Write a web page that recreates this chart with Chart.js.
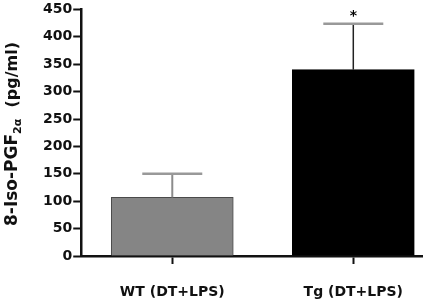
<!DOCTYPE html>
<html>
<head>
<meta charset="utf-8">
<script src="https://cdn.jsdelivr.net/npm/chart.js@4/dist/chart.umd.min.js"></script>
<style>
  html, body { margin: 0; padding: 0; background: #fff; overflow: hidden; }
  canvas { display: block; }
</style>
</head>
<body>
<canvas id="isoChart" width="423" height="302"></canvas>
<script>
const groups = ['WT (DT+LPS)', 'Tg (DT+LPS)'];
const positions = [1, 2];
const means = [107, 340];
const sems = [43, 84];
const significance = ['', '*'];
const yTicks = [0, 50, 100, 150, 200, 250, 300, 350, 400, 450];

const barFill = ['#858585', '#000000'];
const barEdge = ['#4a4a4a', '#000000'];

const FONT = "'DejaVu Sans', sans-serif";

// upper error bars + significance star, placed through the scales
const errorBars = {
    id: 'errorBars',
    afterDatasetsDraw(chart) {
        const { ctx, scales } = chart;
        const meta = chart.getDatasetMeta(0);
        ctx.save();
        meta.data.forEach((bar, i) => {
            const x = bar.x;
            const yTop = scales.y.getPixelForValue(means[i]);
            const yErr = scales.y.getPixelForValue(means[i] + sems[i]);
            ctx.lineCap = 'butt';
            ctx.strokeStyle = i === 0 ? '#8c8c8c' : '#222';
            ctx.lineWidth = i === 0 ? 2 : 1.5;
            ctx.beginPath();
            ctx.moveTo(x, yTop);
            ctx.lineTo(x, yErr);
            ctx.stroke();
            ctx.strokeStyle = '#999';
            ctx.lineWidth = 2.5;
            ctx.beginPath();
            ctx.moveTo(x - 30, yErr);
            ctx.lineTo(x + 30, yErr);
            ctx.stroke();
            if (significance[i]) {
                ctx.fillStyle = '#000';
                ctx.font = 'bold 14px ' + FONT;
                ctx.textAlign = 'center';
                ctx.textBaseline = 'middle';
                ctx.fillText(significance[i], x, yErr - 7);
            }
        });
        ctx.restore();
    }
};

// rotated y title with subscript "2α"
const yTitle = {
    id: 'yTitle',
    afterDraw(chart) {
        const { ctx } = chart;
        const parts = [
            { t: '8-Iso-PGF', f: 'bold 17px ' + FONT, dy: 0 },
            { t: '2α', f: 'bold 11px ' + FONT, dy: 4 },
            { t: '  (pg/ml)', f: 'bold 16px ' + FONT, dy: 0 }
        ];
        let total = 0;
        parts.forEach(p => { ctx.font = p.f; p.w = ctx.measureText(p.t).width; total += p.w; });
        ctx.save();
        ctx.translate(17, 134);
        ctx.rotate(-Math.PI / 2);
        ctx.fillStyle = '#111';
        ctx.textBaseline = 'alphabetic';
        ctx.textAlign = 'left';
        let xPos = -total / 2;
        parts.forEach(p => {
            ctx.font = p.f;
            ctx.fillText(p.t, xPos, p.dy);
            xPos += p.w;
        });
        ctx.restore();
    }
};

const ctx = document.getElementById('isoChart').getContext('2d');
new Chart(ctx, {
    type: 'bar',
    data: {
        datasets: [{
            data: positions.map((p, i) => ({ x: p, y: means[i] })),
            backgroundColor: barFill,
            borderColor: barEdge,
            borderWidth: 1,
            barThickness: 122
        }]
    },
    options: {
        responsive: false,
        animation: false,
        layout: { padding: { left: 42, right: 0, top: 4, bottom: 0 } },
        plugins: {
            legend: { display: false },
            tooltip: { enabled: false }
        },
        scales: {
            x: {
                type: 'linear',
                offset: false,
                min: 0.497,
                max: 2.381,
                afterBuildTicks: scale => { scale.ticks = positions.map(v => ({ value: v })); },
                afterFit: scale => { scale.height = 46; },
                grid: { offset: false, drawOnChartArea: false, tickLength: 8, tickWidth: 2, tickColor: '#111' },
                border: { display: true, color: '#111', width: 2.5 },
                ticks: {
                    callback: v => groups[positions.indexOf(v)] || '',
                    color: '#111',
                    font: { family: FONT, weight: 'bold', size: 14 },
                    padding: 20,
                    maxRotation: 0,
                    autoSkip: false
                }
            },
            y: {
                min: 0,
                max: 450,
                afterBuildTicks: scale => { scale.ticks = yTicks.map(v => ({ value: v })); },
                grid: { drawOnChartArea: false, tickLength: 8, tickWidth: 2, tickColor: '#111' },
                border: { display: true, color: '#111', width: 2.5 },
                ticks: {
                    color: '#111',
                    font: { family: FONT, weight: 'bold', size: 14 },
                    padding: 1
                }
            }
        }
    },
    plugins: [errorBars, yTitle]
});
</script>
</body>
</html>
